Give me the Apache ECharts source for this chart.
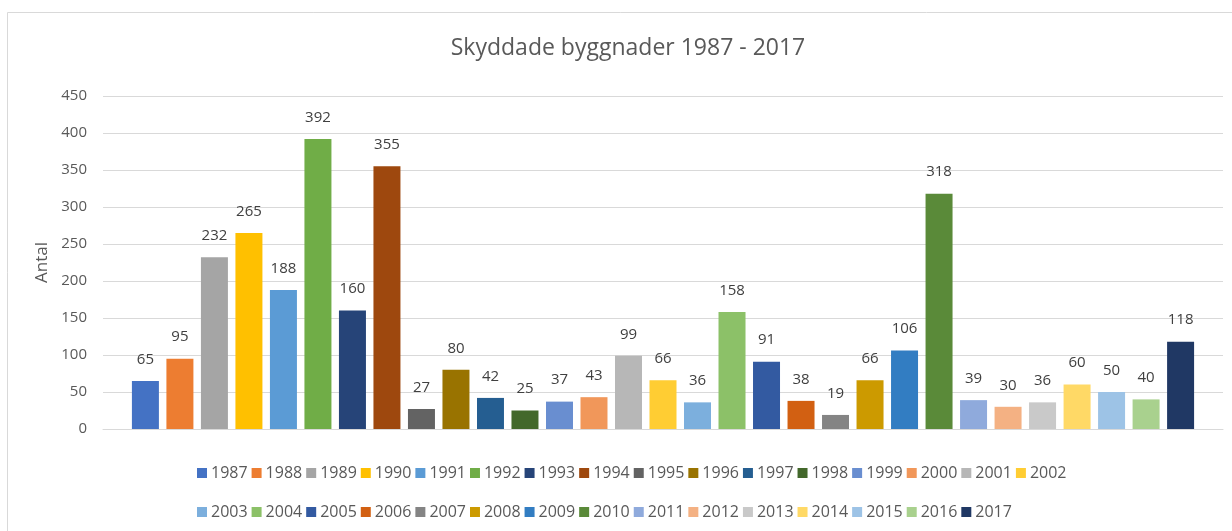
<!DOCTYPE html>
<html>
<head>
<meta charset="utf-8">
<script src="https://cdn.jsdelivr.net/npm/echarts@6/dist/echarts.min.js"></script>
<style>
  html, body { margin: 0; padding: 0; background: #fff; }
  #chart { width: 1232px; height: 531px; }
</style>
</head>
<body>
<div id="chart"></div>
<script>
const years = ['1987','1988','1989','1990','1991','1992','1993','1994','1995','1996','1997','1998','1999','2000','2001','2002',
  '2003','2004','2005','2006','2007','2008','2009','2010','2011','2012','2013','2014','2015','2016','2017']
const counts = [65, 95, 232, 265, 188, 392, 160, 355, 27, 80, 42, 25, 37, 43, 99, 66,
  36, 158, 91, 38, 19, 66, 106, 318, 39, 30, 36, 60, 50, 40, 118]
const yTicks = { min: 0, max: 450, interval: 50 }

// Excel office palette + shades
const colors = ['#4472C4','#ED7D31','#A5A5A5','#FFC000','#5B9BD5','#70AD47','#264478','#9E480E','#636363','#997300',
  '#255E91','#43682B','#698ED0','#F1975A','#B7B7B7','#FFCD33','#7CAFDD','#8CC168','#335AA1','#D26012','#848484',
  '#CC9A00','#327DC2','#5A8A39','#8FAADC','#F4B183','#C9C9C9','#FFD966','#9DC3E6','#A9D18E','#203864']

const font = "'Open Sans', 'Noto Sans', sans-serif"
const textGray = '#595959'

const legendBase = {
  left: 192,
  icon: 'rect',
  itemWidth: 10,
  itemHeight: 10,
  itemGap: 4,
  selectedMode: false,
  textStyle: { color: textGray, fontSize: 16, fontFamily: font, width: 36, padding: [0, 0, 0, -1] }
}

const chart = echarts.init(document.getElementById('chart'))
chart.setOption({
  backgroundColor: '#fff',
  animation: false,
  graphic: [{
    type: 'rect',
    shape: { x: 7.5, y: 12.5, width: 1240, height: 540 },
    style: { fill: 'none', stroke: '#d9d9d9', lineWidth: 1 },
    silent: true
  }],
  title: {
    text: 'Skyddade byggnader 1987 - 2017',
    left: 623,
    top: 32,
    textAlign: 'center',
    textStyle: { color: textGray, fontSize: 23, fontWeight: 'normal', fontFamily: font }
  },
  legend: [
    Object.assign({}, legendBase, { top: 460, data: years.slice(0, 16) }),
    Object.assign({}, legendBase, { top: 499, data: years.slice(16) })
  ],
  grid: { left: 103, right: 9, top: 96, bottom: 102, containLabel: false },
  xAxis: {
    type: 'category',
    data: [''],
    axisLine: { lineStyle: { color: '#d9d9d9', width: 1 } },
    axisTick: { show: false },
    axisLabel: { show: false }
  },
  yAxis: {
    type: 'value',
    min: yTicks.min,
    max: yTicks.max,
    interval: yTicks.interval,
    name: 'Antal',
    nameLocation: 'middle',
    nameGap: 46,
    nameTextStyle: { color: textGray, fontSize: 17, fontFamily: font },
    axisLine: { show: false },
    axisTick: { show: false },
    axisLabel: { color: textGray, fontSize: 15, fontFamily: font, margin: 16 },
    splitLine: { lineStyle: { color: '#d9d9d9', width: 1 } }
  },
  series: years.map((y, i) => ({
    name: y,
    type: 'bar',
    data: [counts[i]],
    barWidth: 27,
    barGap: '27.8%',
    itemStyle: { color: colors[i] },
    label: {
      show: true,
      position: 'top',
      distance: 14,
      color: '#404040',
      fontSize: 15,
      fontFamily: font
    }
  }))
})
</script>
</body>
</html>
